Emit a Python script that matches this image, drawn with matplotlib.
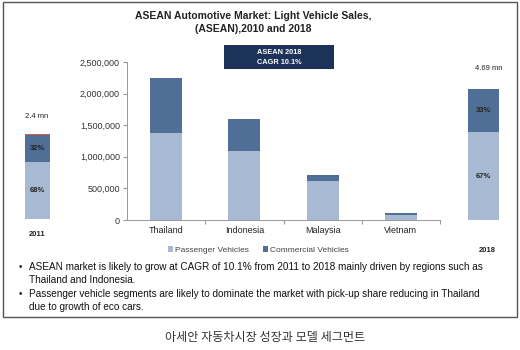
import matplotlib.pyplot as plt
from matplotlib.patches import Rectangle

plt.rcParams['font.family'] = ['Liberation Sans', 'DejaVu Sans']

# data
countries = ["Thailand", "Indonesia", "Malaysia", "Vietnam"]
passenger = [1372000, 1097000, 622000, 74000]
commercial = [875000, 496000, 85000, 42000]
yticks = [0, 500000, 1000000, 1500000, 2000000, 2500000]

share_2011 = [68, 32, 1]      # passenger, commercial, other (thin red line)
share_2018 = [67, 33]
total_2011 = "2.4 mn"
total_2018 = "4.69 mn"

bullets = [
    ["ASEAN market is likely to grow at CAGR of 10.1% from 2011 to 2018 mainly driven by regions such as",
     "Thailand and Indonesia."],
    ["Passenger vehicle segments are likely to dominate the market with pick-up share reducing in Thailand",
     "due to growth of eco cars."],
]
caption = "아세안 자동차시장 성장과 모델 세그먼트"

c_pass = "#a8bad3"
c_comm = "#4f6f96"
W, H = 520, 350

fig = plt.figure(figsize=(5.2, 3.5), dpi=100)
fig.patch.set_facecolor("white")


def px_axes(x0, y0, x1, y1):
    # pixel box (top-left origin) -> figure axes
    return fig.add_axes([x0 / W, 1 - y1 / H, (x1 - x0) / W, (y1 - y0) / H])


def ftext(px, py, s, **kw):
    fig.text(px / W, 1 - py / H, s, **kw)


# outer frame
fig.add_artist(Rectangle((3 / W, 1 - 317 / H), 514 / W, 315 / H, transform=fig.transFigure,
                         fill=False, edgecolor="#555555", linewidth=1.0))

# main chart
ax = px_axes(127, 62, 440, 220)
x = range(len(countries))
ax.bar(x, passenger, width=0.41, color=c_pass, label="Passenger Vehicles")
ax.bar(x, commercial, width=0.41, bottom=passenger, color=c_comm, label="Commercial Vehicles")
ax.set_xlim(-0.5, 3.5)
ax.set_ylim(0, 2500000)
ax.set_yticks(yticks)
ax.set_yticklabels([f"{v:,}" for v in yticks], fontsize=6.5, color="#333333")
ax.set_xticks([0.5, 1.5, 2.5, 3.5])
ax.set_xticklabels([])
ax.set_xticks(list(x), minor=True)
ax.set_xticklabels(countries, minor=True, fontsize=6.5, color="#222222")
ax.tick_params(axis="x", which="minor", length=0, pad=4)
ax.tick_params(axis="x", which="major", length=3, color="#999999", direction="out")
ax.tick_params(axis="y", length=3, color="#999999", pad=2)
for s in ["top", "right"]:
    ax.spines[s].set_visible(False)
for s in ["left", "bottom"]:
    ax.spines[s].set_color("#999999")
    ax.spines[s].set_linewidth(0.7)
ax.legend(loc="upper center", bbox_to_anchor=(0.42, -0.12), ncol=2, frameon=False,
          fontsize=6, handlelength=0.6, handleheight=0.6, handletextpad=0.3,
          columnspacing=1.6, labelcolor="#444444")

# 2011 side bar
a1 = px_axes(10, 134, 65, 219)
a1.bar([0], [share_2011[0]], width=0.45, color=c_pass)
a1.bar([0], [share_2011[1]], width=0.45, bottom=share_2011[0], color=c_comm)
a1.bar([0], [share_2011[2]], width=0.45, bottom=share_2011[0] + share_2011[1], color="#d9534f")
a1.set_xlim(-0.5, 0.5)
a1.set_ylim(0, sum(share_2011))
a1.text(0, share_2011[0] / 2, f"{share_2011[0]}%", ha="center", va="center", fontsize=5.5,
        fontweight="bold", color="#222222")
a1.text(0, share_2011[0] + share_2011[1] / 2, f"{share_2011[1]}%", ha="center", va="center",
        fontsize=5.5, fontweight="bold", color="#222222")
a1.axis("off")

# 2018 side bar
a2 = px_axes(455, 89, 512, 220)
a2.bar([0], [share_2018[0]], width=0.55, color=c_pass)
a2.bar([0], [share_2018[1]], width=0.55, bottom=share_2018[0], color=c_comm)
a2.set_xlim(-0.5, 0.5)
a2.set_ylim(0, sum(share_2018))
a2.text(0, share_2018[0] / 2, f"{share_2018[0]}%", ha="center", va="center", fontsize=5.5,
        fontweight="bold", color="#222222")
a2.text(0, share_2018[0] + share_2018[1] / 2, f"{share_2018[1]}%", ha="center", va="center",
        fontsize=5.5, fontweight="bold", color="#222222")
a2.axis("off")

ftext(37, 117, total_2011, ha="center", va="center", fontsize=5.5, color="#222222")
ftext(37, 235, "2011", ha="center", va="center", fontsize=5.5, fontweight="bold", color="#222222")
ftext(489, 68, total_2018, ha="center", va="center", fontsize=5.5, color="#222222")
ftext(487, 251, "2018", ha="center", va="center", fontsize=5.5, fontweight="bold", color="#222222")

# title
ftext(253, 16, "ASEAN Automotive Market: Light Vehicle Sales,", ha="center", va="center",
      fontsize=7.5, fontweight="bold", color="#222222")
ftext(253, 29, "(ASEAN),2010 and 2018", ha="center", va="center",
      fontsize=7.5, fontweight="bold", color="#222222")

# CAGR box
fig.add_artist(Rectangle((224 / W, 1 - 69 / H), 110 / W, 24 / H, transform=fig.transFigure,
                         facecolor="#1c3259", edgecolor="none"))
ftext(279, 52, "ASEAN 2018", ha="center", va="center", fontsize=5.3, fontweight="bold", color="white")
ftext(279, 62, "CAGR 10.1%", ha="center", va="center", fontsize=5.3, fontweight="bold", color="white")

# bullets
line_y = [[267, 280], [294, 307]]
for lines, ys in zip(bullets, line_y):
    ftext(19, ys[0], "•", ha="left", va="center", fontsize=7, color="#222222")
    for s, yy in zip(lines, ys):
        ftext(29, yy, s, ha="left", va="center", fontsize=7.2, color="#111111")

# caption
fig.text(265 / W, 1 - 337 / H, caption, ha="center", va="center", fontsize=8.7,
         color="#333333", family=["Noto Sans CJK KR", "DejaVu Sans"])

fig.savefig("out.png", dpi=100)
